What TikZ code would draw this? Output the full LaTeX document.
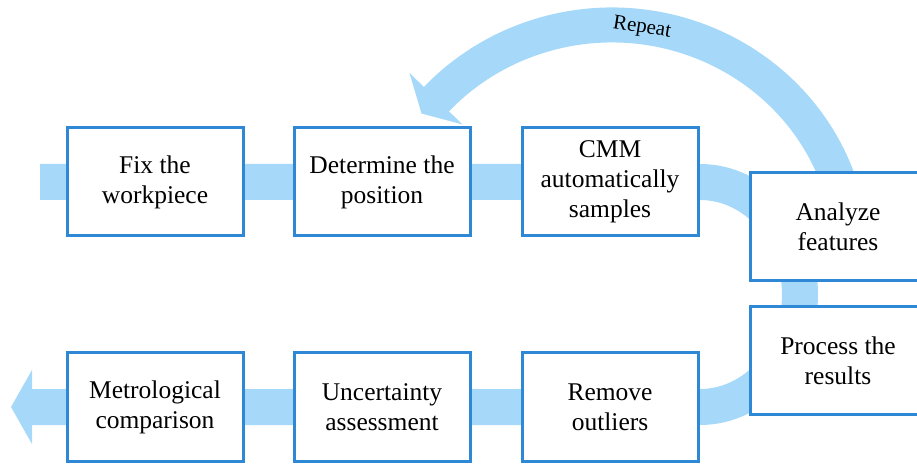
\documentclass[tikz,border=0pt]{standalone}
\usepackage{fontspec}
\setmainfont{Liberation Serif}
\usetikzlibrary{backgrounds,calc}
\definecolor{boxblue}{HTML}{2E88D6}
\definecolor{bandblue}{HTML}{A6D9F9}
\tikzset{
  stepbox/.style={draw=boxblue, line width=3pt, fill=white, minimum width=176pt,
    minimum height=108pt, inner sep=0pt, align=center,
    font=\fontsize{25.5pt}{30pt}\selectfont},
  band/.style={draw=bandblue, line width=36pt, line join=miter, line cap=butt},
  bandlabel/.style={font=\fontsize{21pt}{21pt}\selectfont, inner sep=1pt}
}
\begin{document}
\begin{tikzpicture}[x=1pt,y=1pt]
\useasboundingbox (0,0) rectangle (917,463);
\node[stepbox] (fix) at (155,281) {Fix the\\workpiece};
\node[stepbox] (det) at (382,281) {Determine the\\position};
\node[stepbox] (cmm) at (610,281) {CMM\\automatically\\samples};
\node[stepbox] (ana) at (838,236) {Analyze\\features};
\node[stepbox] (pro) at (838,102.5) {Process the\\results};
\node[stepbox] (rem) at (610,56) {Remove\\outliers};
\node[stepbox] (unc) at (382,56) {Uncertainty\\assessment};
\node[stepbox] (met) at (155,56) {Metrological\\comparison};
\coordinate (in) at (40,281);
\coordinate (outbase) at (32,56);
\coordinate (out) at (11,56);
\coordinate (rc) at (612,205);
\coordinate (rstart) at ($(rc)+(18:240 and 233)$);
\coordinate (rtip) at (421.5,349.5);
\coordinate (rbarb1) at (409.5,390);
\coordinate (rbarb2) at (462.5,338.5);
\begin{scope}[on background layer]
  \draw[band] (in) -- (fix.center) -- (det.center) -- (cmm.center)
    -- ++(90,0) arc[start angle=90, end angle=-90, x radius=100, y radius=112.5]
    -- (rem.center) -- (unc.center) -- (met.center) -- (outbase);
  \fill[bandblue] (32,93) -- (out) -- (32,19) -- cycle;
  \draw[band,line width=35pt] (rstart) arc[start angle=18, end angle=137.5, x radius=240, y radius=233];
  \fill[bandblue] (rbarb1) -- (rtip) -- (rbarb2) -- cycle;
\end{scope}
\node[bandlabel, rotate=-9] (rep) at (642,435) {Repeat};
\end{tikzpicture}
\end{document}
